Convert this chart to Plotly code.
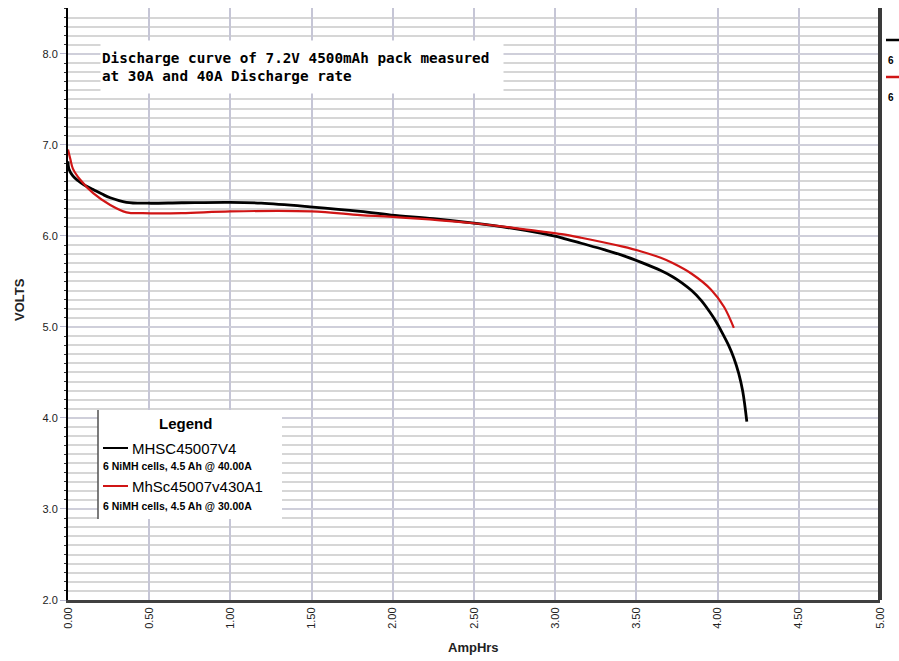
import plotly.graph_objects as go

# ---------------- data ----------------
ah_40a = [0.000, 0.005, 0.03, 0.06, 0.10, 0.155, 0.21, 0.26, 0.36, 0.49, 0.70, 1.00, 1.19,
          1.49, 1.80, 1.99, 2.25, 2.50, 2.75, 2.91, 3.04, 3.16, 3.30, 3.41, 3.53, 3.65,
          3.72, 3.78, 3.84, 3.90, 3.95, 3.99, 4.03, 4.07, 4.10, 4.13, 4.155, 4.18]
volts_40a = [6.82, 6.74, 6.66, 6.61, 6.56, 6.51, 6.46, 6.42, 6.37, 6.36, 6.365, 6.37, 6.36,
             6.32, 6.27, 6.23, 6.19, 6.14, 6.08, 6.03, 5.98, 5.92, 5.85, 5.79, 5.71, 5.62,
             5.555, 5.485, 5.40, 5.29, 5.17, 5.06, 4.93, 4.79, 4.66, 4.49, 4.29, 3.96]

ah_30a = [0.000, 0.015, 0.03, 0.074, 0.155, 0.26, 0.36, 0.46, 0.70, 1.00, 1.50, 1.80, 2.00,
          2.50, 2.91, 3.04, 3.16, 3.41, 3.53, 3.65, 3.72, 3.84, 3.96, 4.04, 4.10]
volts_30a = [6.95, 6.84, 6.74, 6.62, 6.47, 6.34, 6.26, 6.25, 6.25, 6.27, 6.27, 6.23, 6.21,
             6.14, 6.05, 6.02, 5.98, 5.885, 5.83, 5.76, 5.705, 5.585, 5.41, 5.22, 4.99]

series_names = ["MHSC45007V4", "MhSc45007v430A1"]
series_notes = ["6 NiMH cells, 4.5 Ah @ 40.00A", "6 NiMH cells, 4.5 Ah @ 30.00A"]
series_colors = ["#000000", "#d01515"]

x_ticks = [0.0, 0.5, 1.0, 1.5, 2.0, 2.5, 3.0, 3.5, 4.0, 4.5, 5.0]
x_tick_labels = ["0.00", "0.50", "1.00", "1.50", "2.00", "2.50", "3.00", "3.50", "4.00", "4.50", "5.00"]
y_ticks = [2.0, 3.0, 4.0, 5.0, 6.0, 7.0, 8.0]
y_tick_labels = ["2.0", "3.0", "4.0", "5.0", "6.0", "7.0", "8.0"]

title_text = "Discharge curve of 7.2V 4500mAh pack measured<br>at 30A and 40A Discharge rate"

# ---------------- layout helpers (pixel -> paper) ----------------
W, H = 899, 661
L, R, T, B = 68, 19, 8, 61
PW, PH = W - L - R, H - T - B


def px(x):
    return (x - L) / PW


def py(y):
    return (H - B - y) / PH


fig = go.Figure()
fig.add_trace(go.Scatter(x=ah_40a, y=volts_40a, mode="lines", name=series_names[0],
                         line=dict(color=series_colors[0], width=2.8, shape="spline", smoothing=1.0)))
fig.add_trace(go.Scatter(x=ah_30a, y=volts_30a, mode="lines", name=series_names[1],
                         line=dict(color=series_colors[1], width=2.2, shape="spline", smoothing=1.0)))

tick_font = dict(family="Arial, Liberation Sans", size=11, color="#222222")

fig.update_xaxes(range=[0, 5], tickvals=x_ticks, ticktext=x_tick_labels, tickangle=-90,
                 showgrid=True, gridcolor="#c6c6d6", gridwidth=2, zeroline=False,
                 showline=True, linecolor="#404040", linewidth=3,
                 ticks="", tickfont=tick_font)
fig.update_yaxes(range=[2.0, 8.505], tickvals=y_ticks, ticktext=y_tick_labels,
                 showgrid=True, gridcolor="#cfcfda", gridwidth=2, zeroline=False,
                 showline=True, linecolor="#000000", linewidth=2,
                 ticks="outside", ticklen=6, tickcolor="#b8b8d0", tickwidth=1,
                 tickfont=tick_font,
                 minor=dict(dtick=0.1, showgrid=True, gridcolor="#d6d6d6", gridwidth=2,
                            ticks="outside", ticklen=2, tickcolor="#333333"))

shapes = []
annotations = []

# right frame line
shapes.append(dict(type="line", xref="paper", yref="paper", x0=1.0, x1=1.0, y0=0, y1=1,
                   line=dict(color="#3a3a3a", width=4)))

# title box
annotations.append(dict(xref="paper", yref="paper", x=px(100), y=py(40), xanchor="left",
                        yanchor="top", text="<b>" + title_text + "</b>", showarrow=False,
                        align="left", valign="middle", width=400, height=50,
                        bgcolor="white",
                        font=dict(family="DejaVu Sans Mono", size=14.3, color="#000000")))

# legend box
shapes.append(dict(type="rect", xref="paper", yref="paper", x0=px(98), x1=px(282),
                   y0=py(519), y1=py(410), fillcolor="white", line=dict(width=0),
                   layer="above"))
shapes.append(dict(type="line", xref="paper", yref="paper", x0=px(98), x1=px(98),
                   y0=py(519), y1=py(410), line=dict(color="#505050", width=1.5),
                   layer="above"))
annotations.append(dict(xref="paper", yref="paper", x=px(185), y=py(423), text="<b>Legend</b>",
                        showarrow=False, xanchor="center", yanchor="middle",
                        font=dict(family="Arial, Liberation Sans", size=15, color="#000000")))
item_y = [448, 486]
note_y = [466, 506]
for i in range(2):
    shapes.append(dict(type="line", xref="paper", yref="paper", x0=px(103), x1=px(128),
                       y0=py(item_y[i]), y1=py(item_y[i]),
                       line=dict(color=series_colors[i], width=2), layer="above"))
    annotations.append(dict(xref="paper", yref="paper", x=px(130), y=py(item_y[i]),
                            text=series_names[i], showarrow=False, xanchor="left",
                            yanchor="middle",
                            font=dict(family="Arial, Liberation Sans", size=15, color="#000000")))
    annotations.append(dict(xref="paper", yref="paper", x=px(101), y=py(note_y[i]),
                            text="<b>" + series_notes[i] + "</b>", showarrow=False,
                            xanchor="left", yanchor="middle",
                            font=dict(family="Arial, Liberation Sans", size=10.5, color="#000000")))

# clipped legend remnants at the right edge
side_y = [40, 77]
side_note_y = [61, 97]
for i in range(2):
    shapes.append(dict(type="line", xref="paper", yref="paper", x0=px(886), x1=px(899),
                       y0=py(side_y[i]), y1=py(side_y[i]),
                       line=dict(color=series_colors[i], width=2.5)))
    annotations.append(dict(xref="paper", yref="paper", x=px(886), y=py(side_note_y[i]),
                            text="<b>6</b>", showarrow=False, xanchor="left", yanchor="middle",
                            font=dict(family="Arial, Liberation Sans", size=10, color="#000000")))

# axis titles
annotations.append(dict(xref="paper", yref="paper", x=px(473), y=py(647), text="<b>AmpHrs</b>",
                        showarrow=False, xanchor="center", yanchor="middle",
                        font=dict(family="Arial, Liberation Sans", size=13, color="#222222")))
annotations.append(dict(xref="paper", yref="paper", x=px(19), y=py(300), text="<b>VOLTS</b>",
                        showarrow=False, xanchor="center", yanchor="middle", textangle=-90,
                        font=dict(family="Arial, Liberation Sans", size=13, color="#222222")))

fig.update_layout(width=W, height=H, margin=dict(l=L, r=R, t=T, b=B),
                  plot_bgcolor="white", paper_bgcolor="white", showlegend=False,
                  hovermode=False,
                  shapes=shapes, annotations=annotations)

fig.write_html("out.html", config={"displayModeBar": False},
               post_script="document.body.style.margin='0px';document.body.style.overflow='hidden';")
